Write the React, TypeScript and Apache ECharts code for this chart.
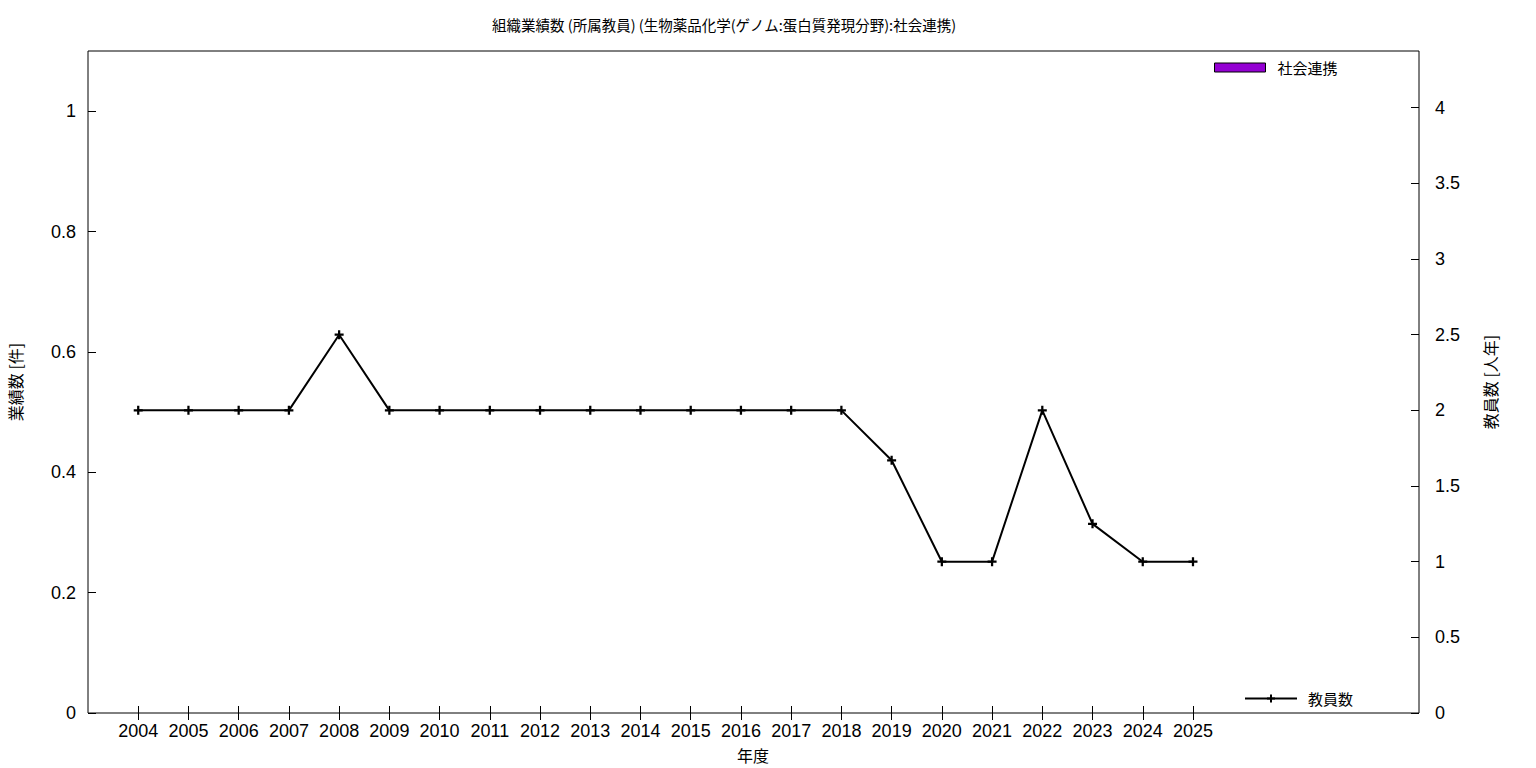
import React, { useEffect, useRef } from "react";
import * as echarts from "echarts";

const years = [2004, 2005, 2006, 2007, 2008, 2009, 2010, 2011, 2012, 2013, 2014, 2015, 2016, 2017, 2018, 2019, 2020, 2021, 2022, 2023, 2024, 2025];
const staffCount = [2, 2, 2, 2, 2.5, 2, 2, 2, 2, 2, 2, 2, 2, 2, 2, 1.67, 1, 1, 2, 1.25, 1, 1];
const outputCount = [0, 0, 0, 0, 0, 0, 0, 0, 0, 0, 0, 0, 0, 0, 0, 0, 0, 0, 0, 0, 0, 0];
const leftTicks = [0, 0.2, 0.4, 0.6, 0.8, 1];
const rightTicks = [0, 0.5, 1, 1.5, 2, 2.5, 3, 3.5, 4];

const titleText = "組織業績数 (所属教員) (生物薬品化学(ゲノム:蛋白質発現分野):社会連携)";
const barName = "社会連携";
const lineName = "教員数";
const xTitle = "年度";
const yLeftTitle = "業績数 [件]";
const yRightTitle = "教員数 [人年]";

const NUM_FONT = "'Liberation Sans', Arial, sans-serif";
const JP_FONT = "'Noto Sans CJK JP', 'Liberation Sans', sans-serif";
const PLUS = "path://M3,0H5V3H8V5H5V8H3V5H0V3H3Z";

export default function App() {
  const ref = useRef<HTMLDivElement>(null);
  useEffect(() => {
    if (!ref.current) return;
    const chart = echarts.init(ref.current, null, { renderer: "svg" });
    const fmt = (v: number) => String(Math.round(v * 1000) / 1000);
    const nameFont = `16px ${JP_FONT}`;
    chart.setOption({
      animation: false,
      backgroundColor: "#fff",
      title: {
        text: titleText,
        left: 487,
        top: 12,
        textStyle: { fontFamily: JP_FONT, fontSize: 14.5, fontWeight: "normal", color: "#000" },
      },
      grid: {
        left: 88, right: 117, top: 51, bottom: 55,
        outerBoundsMode: "none",
        containLabel: false,
        show: true, borderColor: "#000", borderWidth: 1, backgroundColor: "transparent",
      },
      graphic: [
        { type: "text", x: 753, y: 755, style: { text: xTitle, font: nameFont, fill: "#000", align: "center", verticalAlign: "middle" } },
        { type: "text", x: 15, y: 382, rotation: Math.PI / 2, style: { text: yLeftTitle, font: nameFont, fill: "#000", align: "center", verticalAlign: "middle" } },
        { type: "text", x: 1490, y: 382, rotation: Math.PI / 2, style: { text: yRightTitle, font: nameFont, fill: "#000", align: "center", verticalAlign: "middle" } },
      ],
      legend: [
        {
          data: [{ name: barName, itemStyle: { borderColor: "#000", borderWidth: 1 } }],
          left: 1214,
          top: 60,
          padding: 0,
          itemWidth: 51,
          itemHeight: 9,
          icon: "rect",
          textStyle: { fontFamily: JP_FONT, fontSize: 15, color: "#000", padding: [0, 0, 0, 7] },
        },
        {
          data: [lineName],
          left: 1244,
          top: 691,
          padding: 0,
          itemWidth: 52,
          itemHeight: 10,
          textStyle: { fontFamily: JP_FONT, fontSize: 15, color: "#000", padding: [0, 0, 0, 6] },
        },
      ],
      xAxis: [
        {
          type: "value",
          min: 2003,
          max: 2029.5,
          position: "bottom",
          axisLine: { show: false },
          splitLine: { show: false },
          axisTick: { show: true, inside: true, length: 7, customValues: years, lineStyle: { color: "#000" } },
          axisLabel: { customValues: years, fontFamily: NUM_FONT, fontSize: 18, color: "#000", margin: 9, formatter: (v: number) => String(v) },
        },
        {
          type: "value",
          min: 2003,
          max: 2029.5,
          position: "top",
          axisLine: { show: false },
          splitLine: { show: false },
          axisTick: { show: true, inside: true, length: 7, customValues: years, lineStyle: { color: "#000" } },
          axisLabel: { show: false },
        },
      ],
      yAxis: [
        {
          type: "value",
          min: 0,
          max: 1.1,
          position: "left",
          axisLine: { show: false },
          splitLine: { show: false },
          axisTick: { show: true, inside: true, length: 8, customValues: leftTicks, lineStyle: { color: "#000" } },
          axisLabel: { customValues: leftTicks, fontFamily: NUM_FONT, fontSize: 18, color: "#000", margin: 12, formatter: fmt },
        },
        {
          type: "value",
          min: 0,
          max: 4.375,
          position: "right",
          axisLine: { show: false },
          splitLine: { show: false },
          axisTick: { show: true, inside: true, length: 8, customValues: rightTicks, lineStyle: { color: "#000" } },
          axisLabel: { customValues: rightTicks, fontFamily: NUM_FONT, fontSize: 18, color: "#000", margin: 16, formatter: fmt },
        },
      ],
      series: [
        {
          name: barName,
          type: "bar",
          xAxisIndex: 0,
          yAxisIndex: 0,
          barWidth: 30,
          itemStyle: { color: "#9400D3", borderColor: "#000", borderWidth: 0 },
          data: years.map((y, i) => [y, outputCount[i]]),
        },
        {
          name: lineName,
          type: "line",
          xAxisIndex: 0,
          yAxisIndex: 1,
          symbol: PLUS,
          symbolSize: 9,
          lineStyle: { color: "#000", width: 2 },
          itemStyle: { color: "#000" },
          data: years.map((y, i) => [y, staffCount[i]]),
        },
      ],
    });
    return () => chart.dispose();
  }, []);
  return <div ref={ref} style={{ position: "fixed", left: 0, top: 0, width: 1536, height: 768 }} />;
}
